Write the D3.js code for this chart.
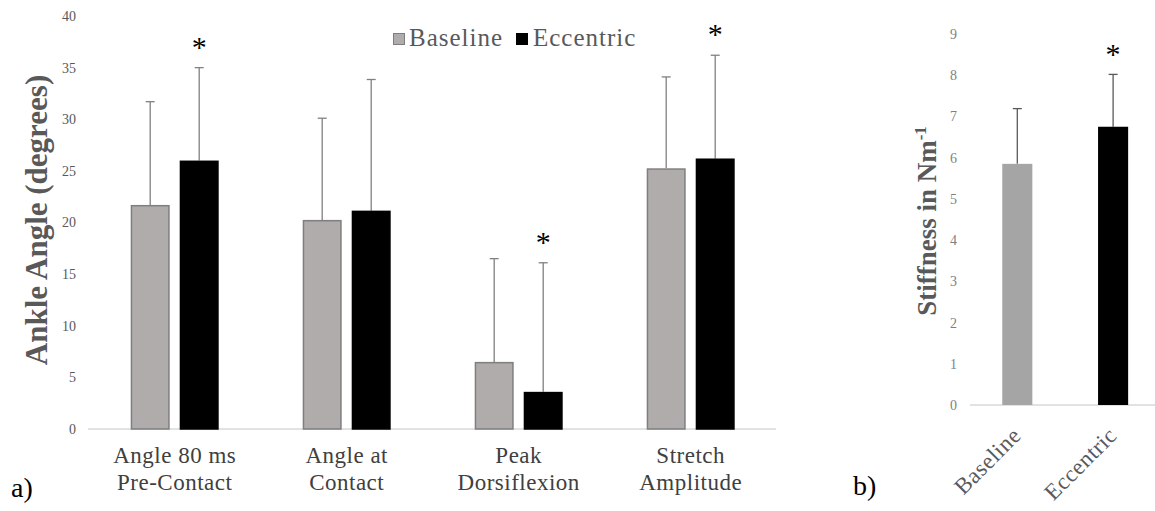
<!DOCTYPE html>
<html><head><meta charset="utf-8">
<script src="https://cdn.jsdelivr.net/npm/d3@7"></script>
<style>html,body{margin:0;padding:0;background:#fff;}svg{display:block;} svg text{font-family:"Liberation Serif","Times New Roman",serif;}</style>
</head><body><svg id="c" width="1155" height="511"></svg>
<script>
// ---- Data: panel a) ----
const categories = [["Angle 80 ms","Pre-Contact"],["Angle at","Contact"],["Peak","Dorsiflexion"],["Stretch","Amplitude"]];
const seriesNames = ["Baseline","Eccentric"];
const baselineMeans = [21.7, 20.25, 6.5, 25.25];
const baselineSD    = [10.0, 9.85, 10.0, 8.85];
const eccentricMeans = [26.0, 21.15, 3.6, 26.2];
const eccentricSD    = [9.0, 12.7, 12.5, 10.0];
const eccentricSignificant = [true, false, true, true];
const angleTicks = [0,5,10,15,20,25,30,35,40];
// ---- Data: panel b) ----
const stiffCategories = ["Baseline","Eccentric"];
const stiffMeans = [5.85, 6.75];
const stiffSD = [1.34, 1.27];
const stiffSignificant = [false, true];
const stiffTicks = [0,1,2,3,4,5,6,7,8,9];

const FONT = "Liberation Serif, Times New Roman, serif";
const svg = d3.select("#c").attr("font-family", FONT);
const catKeys = categories.map(c => c.join(" "));

// ---------- Panel a ----------
const x0 = d3.scaleBand().domain(catKeys).range([88.7, 776.7]).padding(0);
const x1 = d3.scaleBand().domain(seriesNames).range([x0.bandwidth()/2 - 44, x0.bandwidth()/2 + 44]).paddingInner(10/49);
const y = d3.scaleLinear().domain([0, 40]).range([429, 16]);

const fillA = {Baseline:"#afacab", Eccentric:"#000000"};
const strokeA = {Baseline:"#7f7f7f", Eccentric:"#000000"};

const yAxisA = d3.axisLeft(y).tickValues(angleTicks).tickSize(0).tickPadding(0);
const gYA = svg.append("g").attr("transform","translate(76,0)").call(yAxisA).attr("font-family", FONT);
gYA.select(".domain").remove();
gYA.selectAll("text").attr("font-family",FONT).attr("font-size",14).attr("fill","#595959").attr("dy","0.32em");

svg.append("line").attr("x1",88).attr("x2",776).attr("y1",y(0)).attr("y2",y(0)).attr("stroke","#d9d9d9").attr("stroke-width",1.5);

const rows = catKeys.map((k,i)=>({key:k, vals:[
  {s:"Baseline", m:baselineMeans[i], sd:baselineSD[i], sig:false},
  {s:"Eccentric", m:eccentricMeans[i], sd:eccentricSD[i], sig:eccentricSignificant[i]}]}));

const grp = svg.selectAll("g.grp").data(rows).enter().append("g").attr("class","grp")
  .attr("transform", d=>`translate(${x0(d.key)},0)`);

// error bars (behind bars)
grp.selectAll("g.err").data(d=>d.vals).enter().append("g").attr("class","err").each(function(d){
  const g = d3.select(this); const cx = x1(d.s) + x1.bandwidth()/2;
  g.append("line").attr("x1",cx).attr("x2",cx).attr("y1",y(d.m)).attr("y2",y(d.m+d.sd)).attr("stroke","#808080").attr("stroke-width",1.3);
  g.append("line").attr("x1",cx-4.5).attr("x2",cx+4.5).attr("y1",y(d.m+d.sd)).attr("y2",y(d.m+d.sd)).attr("stroke","#808080").attr("stroke-width",1.3);
});
grp.selectAll("rect").data(d=>d.vals).enter().append("rect")
  .attr("x", d=>x1(d.s)+0.75).attr("width", x1.bandwidth()-1.5)
  .attr("y", d=>y(d.m)+0.75).attr("height", d=>y(0)-y(d.m)-0.75)
  .attr("fill", d=>fillA[d.s]).attr("stroke", d=>strokeA[d.s]).attr("stroke-width",1.5);
grp.selectAll("text.sig").data(d=>d.vals.filter(v=>v.sig)).enter().append("text").attr("class","sig")
  .attr("x", d=>x1(d.s)+x1.bandwidth()/2).attr("y", d=>y(d.m+d.sd)-11)
  .attr("text-anchor","middle").attr("font-size",30).attr("fill","#000").text("*");

// category labels
grp.each(function(d,i){
  const t = d3.select(this).append("text").attr("x", x0.bandwidth()/2).attr("y",463)
    .attr("text-anchor","middle").attr("font-size",23).attr("letter-spacing",0.5).attr("fill","#404040");
  categories[i].forEach((line,j)=>t.append("tspan").attr("x",x0.bandwidth()/2).attr("dy", j===0?0:27).text(line));
});

// y title
svg.append("text").attr("transform","translate(47,220) rotate(-90)").attr("text-anchor","middle")
  .attr("font-size",31).attr("font-weight","bold").attr("fill","#595959").text("Ankle Angle (degrees)");

// legend
const legend = svg.append("g").attr("transform","translate(393,33)");
legend.append("rect").attr("x",0.5).attr("y",0.5).attr("width",11).attr("height",11).attr("fill",fillA.Baseline).attr("stroke",strokeA.Baseline).attr("stroke-width",1);
legend.append("text").attr("x",16).attr("y",12.5).attr("font-size",25).attr("letter-spacing",1).attr("fill","#595959").text(seriesNames[0]);
legend.append("rect").attr("x",123).attr("y",0).attr("width",12).attr("height",12).attr("fill",fillA.Eccentric);
legend.append("text").attr("x",140).attr("y",12.5).attr("font-size",25).attr("letter-spacing",1).attr("fill","#595959").text(seriesNames[1]);

svg.append("text").attr("x",11).attr("y",497).attr("font-size",28).attr("fill","#000").text("a)");

// ---------- Panel b ----------
const xb = d3.scaleBand().domain(stiffCategories).range([969.4, 1161]).paddingInner(0.686).paddingOuter(0.343);
const yb = d3.scaleLinear().domain([0, 9]).range([405, 34]);
const fillB = {Baseline:"#a5a5a5", Eccentric:"#000000"};

const gYB = svg.append("g").attr("transform","translate(957,0)").call(d3.axisLeft(yb).tickValues(stiffTicks).tickSize(0).tickPadding(0)).attr("font-family", FONT);
gYB.select(".domain").remove();
gYB.selectAll("text").attr("font-family",FONT).attr("font-size",14).attr("fill","#7f7f7f").attr("dy","0.32em");

svg.append("line").attr("x1",970).attr("x2",1155).attr("y1",yb(0)).attr("y2",yb(0)).attr("stroke","#d9d9d9").attr("stroke-width",1.5);

const rowsB = stiffCategories.map((c,i)=>({c, m:stiffMeans[i], sd:stiffSD[i], sig:stiffSignificant[i]}));
const gb = svg.append("g");
rowsB.forEach(d=>{
  const cx = xb(d.c)+xb.bandwidth()/2;
  gb.append("line").attr("x1",cx).attr("x2",cx).attr("y1",yb(d.m)).attr("y2",yb(d.m+d.sd)).attr("stroke","#595959").attr("stroke-width",1.3);
  gb.append("line").attr("x1",cx-4.5).attr("x2",cx+4.5).attr("y1",yb(d.m+d.sd)).attr("y2",yb(d.m+d.sd)).attr("stroke","#595959").attr("stroke-width",1.3);
});
gb.selectAll("rect").data(rowsB).enter().append("rect")
  .attr("x",d=>xb(d.c)).attr("width",xb.bandwidth()).attr("y",d=>yb(d.m)).attr("height",d=>yb(0)-yb(d.m))
  .attr("fill",d=>fillB[d.c]);
gb.selectAll("text.sig").data(rowsB.filter(d=>d.sig)).enter().append("text").attr("class","sig")
  .attr("x",d=>xb(d.c)+xb.bandwidth()/2).attr("y",d=>yb(d.m+d.sd)-10).attr("text-anchor","middle")
  .attr("font-size",30).attr("fill","#000").text("*");

// rotated x labels
gb.selectAll("text.xl").data(rowsB).enter().append("text").attr("class","xl")
  .attr("transform",d=>`translate(${xb(d.c)+xb.bandwidth()/2+5},${yb(0)+32}) rotate(-45)`)
  .attr("text-anchor","end").attr("font-size",23).attr("letter-spacing",0.5).attr("fill","#595959").text(d=>d.c);

// y title with superscript
const tb = svg.append("text").attr("transform","translate(936,221) rotate(-90)").attr("text-anchor","middle")
  .attr("font-size",27).attr("font-weight","bold").attr("fill","#595959");
tb.append("tspan").text("Stiffness in Nm");
tb.append("tspan").attr("dy",-10).attr("font-size",17).text("-1");

svg.append("text").attr("x",853).attr("y",495).attr("font-size",28).attr("fill","#000").text("b)");
</script></body></html>
